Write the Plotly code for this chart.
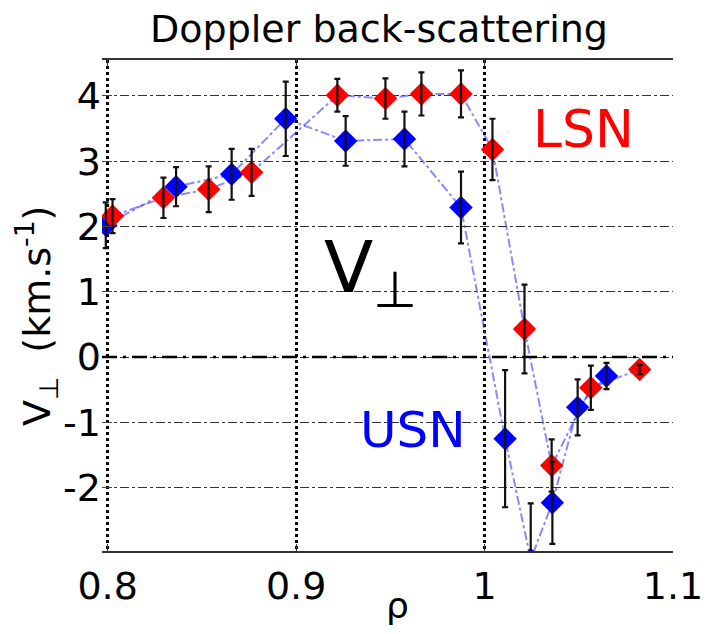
import plotly.graph_objects as go

# ---- data ----
red_x = [0.8026, 0.8296, 0.8536, 0.8764, 0.9219, 0.9474, 0.9665, 0.9875, 1.0042, 1.0212, 1.0356, 1.0564, 1.0823]
red_y = [2.16, 2.44, 2.57, 2.83, 4.01, 3.96, 4.03, 4.03, 3.18, 0.43, -1.66, -0.47, -0.19]
red_err = [0.26, 0.31, 0.35, 0.36, 0.25, 0.31, 0.33, 0.36, 0.47, 0.68, 0.40, 0.34, 0.07]

blue_x = [0.799, 0.8363, 0.8658, 0.8945, 0.9263, 0.9575, 0.9875, 1.0109, 1.0245, 1.036, 1.0494, 1.0647]
blue_y = [2.02, 2.61, 2.80, 3.65, 3.31, 3.34, 2.29, -1.25, -3.10, -2.23, -0.77, -0.29]
blue_err = [0.35, 0.30, 0.39, 0.57, 0.38, 0.42, 0.55, 1.05, 0.86, 0.63, 0.43, 0.20]

x_ticks = [0.8, 0.9, 1.0, 1.1]
x_ticktext = ["0.8", "0.9", "1", "1.1"]
y_ticks = [4, 3, 2, 1, 0, -1, -2]
y_ticktext = ["4", "3", "2", "1", "0", "-1", "-2"]

FONT = "DejaVu Sans"
LINE_COLOR = "rgba(60,60,255,0.6)"

fig = go.Figure()

# connecting lines
for xs, ys in ((blue_x, blue_y), (red_x, red_y)):
    fig.add_trace(go.Scatter(x=xs, y=ys, mode="lines",
                             line=dict(color=LINE_COLOR, width=2, dash="dashdot"),
                             showlegend=False, hoverinfo="skip"))

# markers
fig.add_trace(go.Scatter(x=blue_x, y=blue_y, mode="markers",
                         marker=dict(symbol="diamond", size=18, color="#0000ff", line=dict(width=0)),
                         name="USN", showlegend=False))
fig.add_trace(go.Scatter(x=red_x, y=red_y, mode="markers",
                         marker=dict(symbol="diamond", size=18, color="#ff0000", line=dict(width=0)),
                         name="LSN", showlegend=False))

# error bars on top
for xs, ys, es in ((blue_x, blue_y, blue_err), (red_x, red_y, red_err)):
    fig.add_trace(go.Scatter(x=xs, y=ys, mode="markers",
                             marker=dict(size=2, opacity=0),
                             error_y=dict(type="data", array=es, visible=True,
                                          color="#111111", thickness=2.2, width=3),
                             showlegend=False, hoverinfo="skip"))

# zero reference line
fig.add_shape(type="line", xref="paper", x0=0, x1=1, yref="y", y0=0, y1=0,
              line=dict(color="black", width=2.5, dash="longdashdot"))

# page has an 8px body margin: figure is offset by (8, 8) in the screenshot
OFF = 8
W, H = 711 - OFF, 634 - OFF
PL, PR, PT, PB = 102, 673, 60, 551          # plot area in screenshot pixels
L, R, T, B = PL - OFF, 711 - PR, PT - OFF, 634 - PB


def px(xp):
    return (xp - PL) / (PR - PL)


def py(yp):
    return (PB - yp) / (PB - PT)


def ann(text, x, y, size, color, angle=0, xanchor="center"):
    fig.add_annotation(text=text, x=px(x), y=py(y), xref="paper", yref="paper",
                       xanchor=xanchor, yanchor="middle", textangle=angle,
                       showarrow=False, font=dict(family=FONT, size=size, color=color))


ann("LSN", 583, 129, 52, "#ff0000")
ann("USN", 413, 430, 50, "#0000ff")
ann("V<sub>⊥</sub>", 322, 272, 72, "black", xanchor="left")
ann("V<sub>⊥</sub>  (km.s<sup>-1</sup>)", 36, 316, 38, "black", angle=-90)
ann("ρ", 398, 605, 36, "black")

fig.update_layout(
    width=W, height=H,
    margin=dict(l=L, r=R, t=T, b=B),
    paper_bgcolor="white", plot_bgcolor="white",
    title=dict(text="Doppler back-scattering", x=(379 - OFF) / W, xanchor="center",
               y=1 - (29 - OFF) / H, yanchor="middle", yref="container",
               font=dict(family=FONT, size=38, color="black")),
    font=dict(family=FONT, color="black"),
    xaxis=dict(range=[0.797, 1.1], tickvals=x_ticks, ticktext=x_ticktext,
               automargin=False,
               showgrid=True, gridcolor="black", gridwidth=2.5, griddash="dot",
               zeroline=False, showline=True, linecolor="#333333", linewidth=2,
               mirror="ticks", ticks="inside", ticklen=7, tickcolor="#333333",
               tickfont=dict(family=FONT, size=38, color="black")),
    yaxis=dict(range=[-2.97, 4.55], tickvals=y_ticks, ticktext=y_ticktext,
               automargin=False,
               showgrid=True, gridcolor="#333333", gridwidth=1.3, griddash="dashdot",
               zeroline=False, showline=False, ticks="inside", ticklen=10,
               tickcolor="#444444", tickfont=dict(family=FONT, size=38, color="black")),
)

fig.write_html("out.html")
